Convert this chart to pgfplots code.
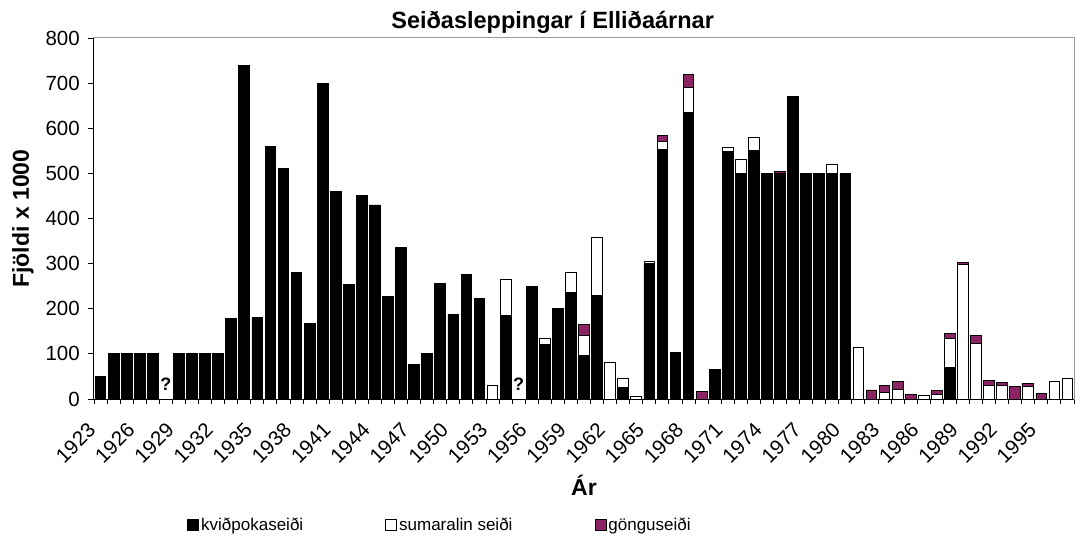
\documentclass[border=0pt]{standalone}
\usepackage{pgfplots}
\pgfplotsset{compat=1.18}
\usepackage{pgfplotstable}
\usepackage{fontspec}
\setmainfont{Liberation Sans}
\definecolor{plum}{RGB}{140,35,100}

% k = kviðpokaseiði, s = sumaralin seiði, g = gönguseiði (x 1000)
\pgfplotstableread{
year k   s   g
1923 50  0   0
1924 100 0   0
1925 100 0   0
1926 100 0   0
1927 100 0   0
1928 0   0   0
1929 100 0   0
1930 100 0   0
1931 100 0   0
1932 100 0   0
1933 178 0   0
1934 740 0   0
1935 180 0   0
1936 560 0   0
1937 510 0   0
1938 280 0   0
1939 167 0   0
1940 700 0   0
1941 460 0   0
1942 254 0   0
1943 450 0   0
1944 430 0   0
1945 227 0   0
1946 336 0   0
1947 77  0   0
1948 100 0   0
1949 257 0   0
1950 188 0   0
1951 275 0   0
1952 222 0   0
1953 0   30  0
1954 186 80  0
1955 0   0   0
1956 250 0   0
1957 120 15  0
1958 200 0   0
1959 236 45  0
1960 96  45  25
1961 230 128 0
1962 0   80  0
1963 25  20  0
1964 0   6   0
1965 300 5   0
1966 553 18  13
1967 103 0   0
1968 636 54  30
1969 0   0   17
1970 66  0   0
1971 549 9   0
1972 500 30  0
1973 550 30  0
1974 500 0   0
1975 500 0   5
1976 670 0   0
1977 500 0   0
1978 500 0   0
1979 500 20  0
1980 500 0   0
1981 0   115 0
1982 0   0   20
1983 0   15  15
1984 0   22  16
1985 0   0   11
1986 0   7   0
1987 0   9   10
1988 70  64  12
1989 0   298 4
1990 0   123 17
1991 0   30  12
1992 0   30  6
1993 0   0   28
1994 0   27  8
1995 0   0   12
1996 0   39  0
1997 0   46  0
}\releases

\begin{document}
\begin{tikzpicture}
\useasboundingbox (-94pt,-158pt) rectangle (981pt,399pt);
\begin{axis}[
  at={(0,0)}, anchor=south west,
  scale only axis, width=980pt, height=361pt,
  ybar stacked, bar width=0.82,
  xmin=1922.5, xmax=1997.5, ymin=0, ymax=800,
  xtick={1923,1926,...,1995},
  minor xtick={1922.5,1923.5,...,1997.5},
  ytick={0,100,...,800},
  xtick pos=bottom, ytick pos=left,
  tick align=outside,
  major x tick style={draw=none},
  minor tick length=5pt, major tick length=6pt,
  tick style={black, line width=0.9pt},
  axis line style={gray!80, line width=1pt},
  /pgf/number format/assume math mode=true,
  /pgf/number format/1000 sep={},
  tick label style={font=\fontsize{20.5}{22}\selectfont},
  xticklabel style={xshift=-8pt, yshift=-21pt, rotate=45, anchor=east, inner sep=1pt},
  yticklabel style={inner sep=2pt, xshift=-6pt},
  xlabel={\bfseries Ár},
  ylabel={\bfseries Fjöldi x 1000},
  label style={font=\fontsize{23}{26}\selectfont},
  xlabel style={at={(0.5,-0.238)}, anchor=center},
  ylabel style={at={(-0.0724,0.5)}, anchor=center},
  title={\bfseries Seiðasleppingar í Elliðaárnar},
  title style={font=\fontsize{23.5}{26}\selectfont, at={(0.468,1.026)}, anchor=center},
  legend columns=3,
  legend image code/.code={\draw[#1, line width=0.9pt] (0pt,-5.5pt) rectangle (11pt,5.5pt);},
  legend style={draw=none, at={(0.095,-0.349)}, anchor=west, inner sep=0pt,
    font=\fontsize{17}{19}\selectfont,
    /tikz/every even column/.append style={column sep=80pt}},
  after end axis/.code={
    \draw[black, line width=1pt] (rel axis cs:0,1) -- (rel axis cs:0,0) -- (rel axis cs:1,0);
    \node[font=\fontsize{18}{20}\selectfont\bfseries, anchor=base, yshift=9pt] at (axis cs:1928,0) {?};
    \node[font=\fontsize{18}{20}\selectfont\bfseries, anchor=base, yshift=9pt] at (axis cs:1955,0) {?};
  },
]
\addplot[fill=black, draw=black, line width=0.9pt] table[x=year, y=k] {\releases};
\addplot[fill=white, draw=black, line width=0.9pt] table[x=year, y=s] {\releases};
\addplot[fill=plum, draw=black, line width=0.9pt] table[x=year, y=g] {\releases};
\legend{kviðpokaseiði, sumaralin seiði, gönguseiði}
\end{axis}
\end{tikzpicture}
\end{document}
